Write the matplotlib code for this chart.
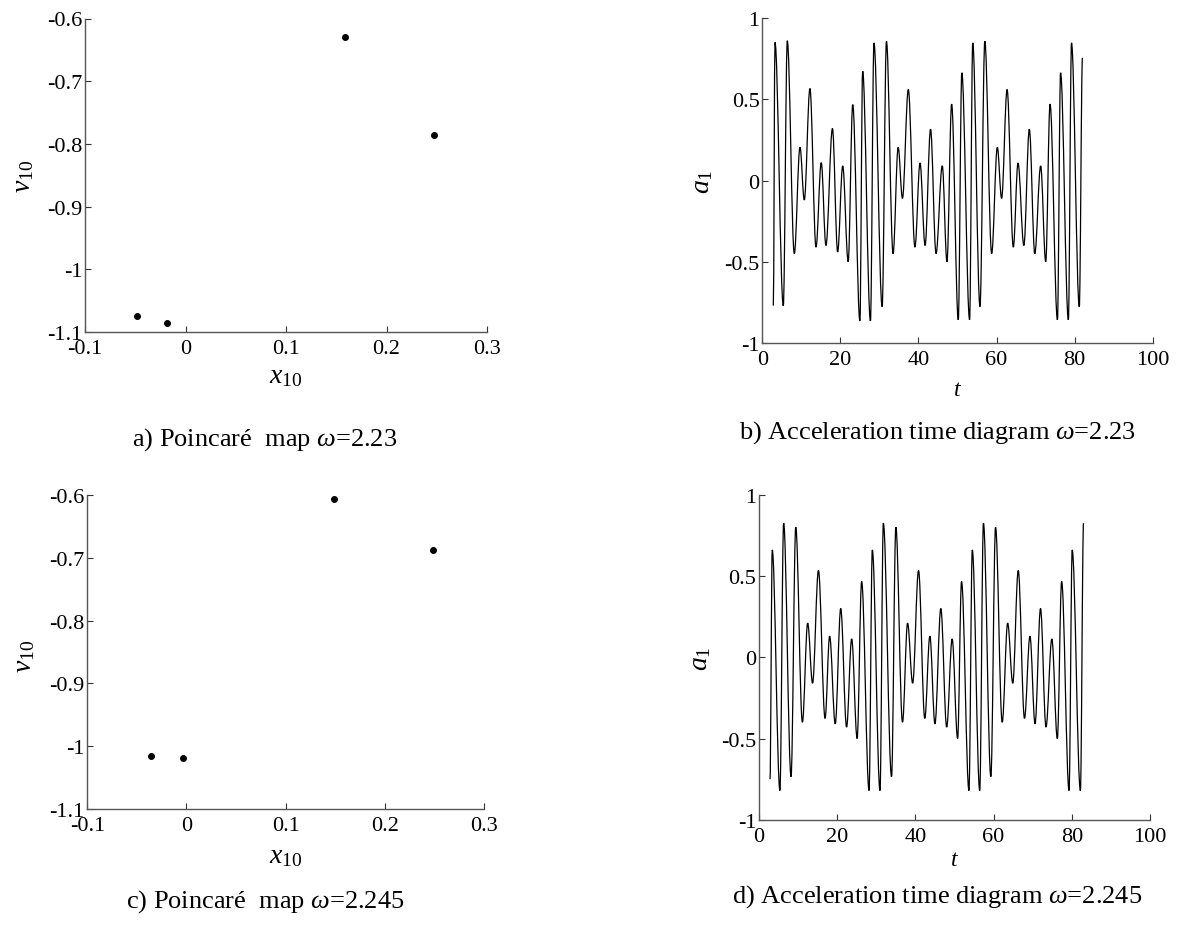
import matplotlib
matplotlib.use("Agg")
import matplotlib.pyplot as plt
from matplotlib.path import Path
from matplotlib.patches import PathPatch
from matplotlib.ticker import FuncFormatter

# ---------------- data ----------------
# Poincare map, omega = 2.23
pa_x = [-0.048, -0.018, 0.159, 0.247]
pa_v = [-1.074, -1.086, -0.629, -0.786]
# Poincare map, omega = 2.245
pc_x = [-0.036, -0.003, 0.149, 0.249]
pc_v = [-1.016, -1.018, -0.607, -0.688]

# acceleration time history, omega = 2.23 (turning points)
b_t = [2.82, 3.25, 5.38, 6.4, 8.2, 9.65, 10.76, 12.2, 13.76, 15.1, 16.3, 17.97, 19.3, 20.6, 22.0, 23.16, 25.0, 25.7, 27.7,
       28.6, 30.7, 31.8, 33.5, 34.8, 35.9, 37.4, 39.1, 40.4, 41.7, 43.1, 44.5, 46.1, 47.3, 48.5, 50.2, 51.1, 53.1,
       53.9, 55.76, 57.0, 58.75, 60.2, 61.3, 62.7, 64.3, 65.5, 67.0, 68.4, 69.8, 71.3, 72.6, 73.7, 75.6, 76.4, 78.4,
       79.2, 81.2, 82.0]
b_a = [-0.77, 0.85, -0.77, 0.86, -0.45, 0.205, -0.12, 0.566, -0.41, 0.11, -0.40, 0.32, -0.44, 0.09, -0.50, 0.467, -0.864, 0.673, -0.864,
       0.847, -0.776, 0.857, -0.45, 0.204, -0.11, 0.56, -0.41, 0.108, -0.40, 0.316, -0.45, 0.09, -0.50, 0.47, -0.857, 0.663, -0.857,
       0.847, -0.776, 0.857, -0.45, 0.204, -0.11, 0.56, -0.41, 0.108, -0.40, 0.316, -0.45, 0.09, -0.50, 0.47, -0.857, 0.663, -0.857,
       0.847, -0.776, 0.755]

# acceleration time history, omega = 2.245
d_t = [2.81, 3.39, 5.35, 6.3, 8.2, 9.4, 11.1, 12.45, 13.7, 15.2, 16.9, 18.07, 19.5, 20.9, 22.4, 23.7, 25.1, 26.25, 28.15,
       28.98, 30.95, 31.8, 33.9, 35.0, 36.7, 38.0, 39.3, 40.8, 42.4, 43.7, 45.0, 46.5, 48.0, 49.4, 50.8, 51.8, 53.7,
       54.55, 56.45, 57.4, 59.3, 60.5, 62.2, 63.6, 64.9, 66.3, 67.9, 69.3, 70.6, 72.0, 73.4, 74.9, 76.3, 77.4, 79.3,
       80.1, 82.2, 83.0]
d_a = [-0.75, 0.66, -0.82, 0.825, -0.735, 0.80, -0.40, 0.21, -0.16, 0.534, -0.376, 0.13, -0.41, 0.30, -0.43, 0.113, -0.50, 0.466, -0.82,
       0.66, -0.82, 0.825, -0.735, 0.80, -0.40, 0.21, -0.16, 0.534, -0.376, 0.13, -0.41, 0.30, -0.43, 0.113, -0.50, 0.466, -0.82,
       0.66, -0.82, 0.825, -0.735, 0.80, -0.40, 0.21, -0.16, 0.534, -0.376, 0.13, -0.41, 0.30, -0.43, 0.113, -0.50, 0.466, -0.82,
       0.66, -0.82, 0.825]

poincare_xticks = [-0.1, 0, 0.1, 0.2, 0.3]
poincare_yticks = [-1.1, -1.0, -0.9, -0.8, -0.7, -0.6]
time_xticks = [0, 20, 40, 60, 80, 100]
time_yticks = [-1, -0.5, 0, 0.5, 1]

captions = ["a) Poincaré  map $\\mathit{\\omega}$=2.23",
            "b) Acceleration time diagram $\\mathit{\\omega}$=2.23",
            "c) Poincaré  map $\\mathit{\\omega}$=2.245",
            "d) Acceleration time diagram $\\mathit{\\omega}$=2.245"]

# ---------------- style ----------------
plt.rcParams['font.family'] = ['Liberation Serif', 'DejaVu Serif']
plt.rcParams['mathtext.fontset'] = 'custom'
plt.rcParams['mathtext.rm'] = 'Liberation Serif'
plt.rcParams['mathtext.it'] = 'Liberation Serif:italic'
plt.rcParams['mathtext.bf'] = 'Liberation Serif:bold'
plt.rcParams['axes.unicode_minus'] = False

W, H = 1180, 929
fig = plt.figure(figsize=(W / 100, H / 100), dpi=100)

tick_fs = 16
lab_fs = 20
t_fs = 17
cap_fs = 19


def axes_px(l, r, t, b):
    return fig.add_axes([l / W, 1 - b / H, (r - l) / W, (b - t) / H])


def style(ax):
    for s in ['top', 'right']:
        ax.spines[s].set_visible(False)
    for s in ['left', 'bottom']:
        ax.spines[s].set_color('#555555')
        ax.spines[s].set_linewidth(1.0)
    ax.tick_params(direction='in', length=4, width=0.8, color='#333333',
                   labelsize=tick_fs)
    ax.tick_params(axis='x', pad=5)
    ax.tick_params(axis='y', pad=2)
    ax.yaxis.set_major_formatter(FuncFormatter(lambda v, p: f"{v:g}"))
    ax.xaxis.set_major_formatter(FuncFormatter(lambda v, p: f"{v:g}"))


def smooth_line(ax, ts, vs, k=0.36):
    verts = [(ts[0], vs[0])]
    codes = [Path.MOVETO]
    for i in range(len(ts) - 1):
        dt = ts[i + 1] - ts[i]
        verts += [(ts[i] + k * dt, vs[i]), (ts[i + 1] - k * dt, vs[i + 1]), (ts[i + 1], vs[i + 1])]
        codes += [Path.CURVE4] * 3
    ax.add_patch(PathPatch(Path(verts, codes), fill=False, edgecolor='black', lw=0.9))


# panel a
ax_a = axes_px(85, 487, 19.5, 333)
ax_a.plot(pa_x, pa_v, 'o', color='black', ms=4.0, mec='black')
ax_a.set_xlim(-0.1, 0.3)
ax_a.set_ylim(-1.1, -0.6)
ax_a.set_xticks(poincare_xticks)
ax_a.set_yticks(poincare_yticks)
style(ax_a)
ax_a.set_xlabel('$\\mathit{x_{10}}$', fontsize=lab_fs)
ax_a.set_ylabel('$\\mathit{v_{10}}$', fontsize=lab_fs)
ax_a.xaxis.set_label_coords(0.5, -0.1)
ax_a.yaxis.set_label_coords(-0.122, 0.5)

# panel c
ax_c = axes_px(87.3, 484, 496, 810)
ax_c.plot(pc_x, pc_v, 'o', color='black', ms=4.0, mec='black')
ax_c.set_xlim(-0.1, 0.3)
ax_c.set_ylim(-1.1, -0.6)
ax_c.set_xticks(poincare_xticks)
ax_c.set_yticks(poincare_yticks)
style(ax_c)
ax_c.set_xlabel('$\\mathit{x_{10}}$', fontsize=lab_fs)
ax_c.set_ylabel('$\\mathit{v_{10}}$', fontsize=lab_fs)
ax_c.xaxis.set_label_coords(0.5, -0.11)
ax_c.yaxis.set_label_coords(-0.127, 0.49)

# panel b
ax_b = axes_px(762.3, 1152.7, 19, 344)
smooth_line(ax_b, b_t, b_a)
ax_b.set_xlim(0, 100)
ax_b.set_ylim(-1, 1)
ax_b.set_xticks(time_xticks)
ax_b.set_yticks(time_yticks)
style(ax_b)
ax_b.set_xlabel('$\\mathit{t}$', fontsize=t_fs)
ax_b.set_ylabel('$\\mathit{a_{1}}$', fontsize=lab_fs)
ax_b.xaxis.set_label_coords(0.5, -0.112)
ax_b.yaxis.set_label_coords(-0.121, 0.5)

# panel d
ax_d = axes_px(759, 1150, 495.7, 820.8)
smooth_line(ax_d, d_t, d_a)
ax_d.set_xlim(0, 100)
ax_d.set_ylim(-1, 1)
ax_d.set_xticks(time_xticks)
ax_d.set_yticks(time_yticks)
style(ax_d)
ax_d.set_xlabel('$\\mathit{t}$', fontsize=t_fs)
ax_d.set_ylabel('$\\mathit{a_{1}}$', fontsize=lab_fs)
ax_d.xaxis.set_label_coords(0.5, -0.09)
ax_d.yaxis.set_label_coords(-0.117, 0.5)

# captions
cap_pos = [(265, 440), (937, 433), (265, 902), (937, 897)]
for txt, (px, py) in zip(captions, cap_pos):
    fig.text(px / W, 1 - py / H, txt, ha='center', va='center', fontsize=cap_fs)

fig.savefig('out.png', dpi=100)
